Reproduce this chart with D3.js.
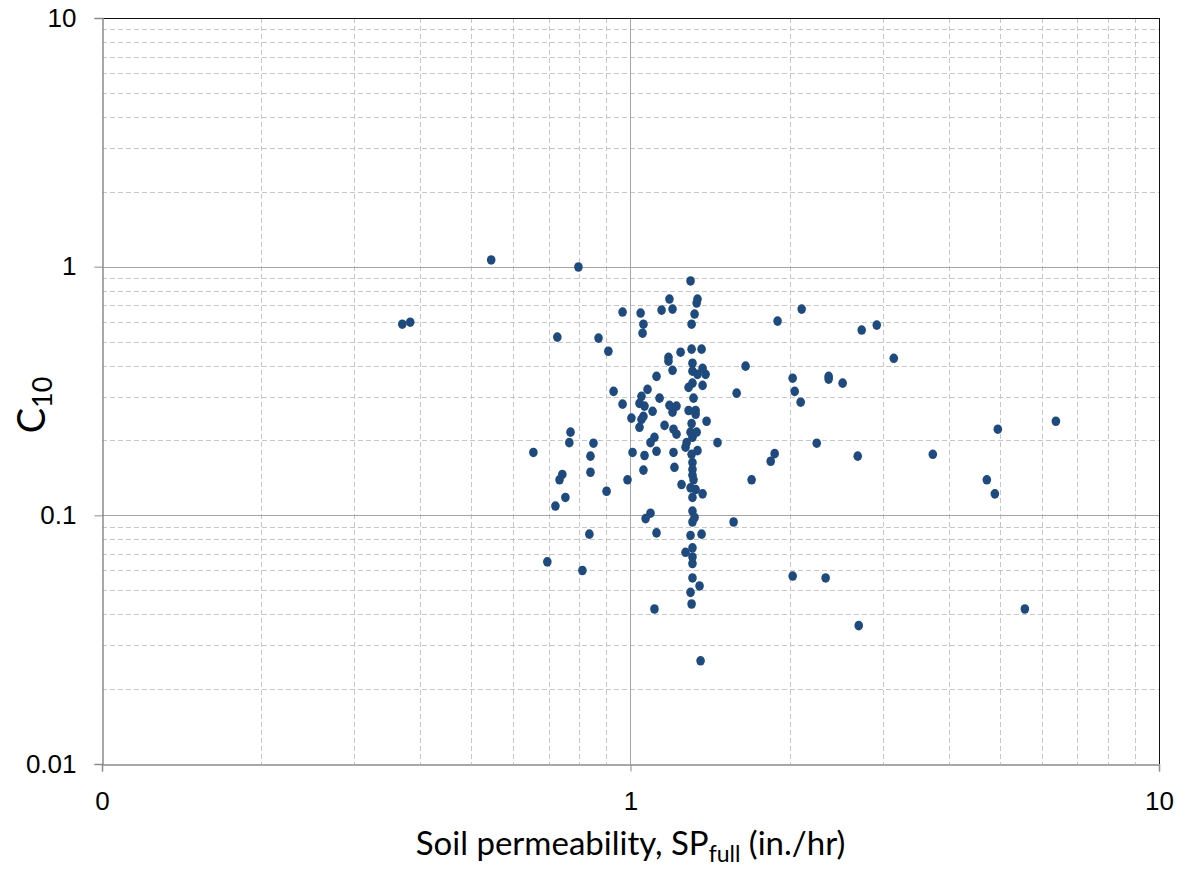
<!DOCTYPE html>
<html lang="en">
<head>
  <meta charset="UTF-8">
  <title>C10 vs soil permeability</title>
  <script src="https://d3js.org/d3.v7.min.js"></script>
  <style>
    body {
      margin: 0;
      background: #fff;
      font-family: Lato, "Open Sans", sans-serif;
    }
    .grid-major line { stroke: #a6a6a6; stroke-width: 1px; }
    .grid-minor line { stroke: #c6c6c6; stroke-width: 1px; stroke-dasharray: 5 3; }
    .tick-label { font-size: 26px; fill: #000; }
    .axis-title { fill: #000; }
  </style>
</head>
<body>
  <svg id="chart" width="1183" height="871"></svg>

  <script>
    // Soil permeability SP_full (in./hr)
    const permeability = [
      0.545, 0.797, 0.370, 0.383, 0.966, 0.727, 0.870, 0.908, 0.929, 0.966,
      1.004, 0.770, 0.766, 0.851, 0.840, 0.840, 0.655, 0.743, 0.734, 0.753,
      0.721, 0.901, 0.836, 0.696, 0.811, 0.987, 1.009, 1.063, 1.120, 1.206,
      1.058, 1.211, 1.045, 1.058, 1.054, 1.145, 1.185, 1.201, 1.299, 1.339,
      1.334, 1.322, 1.305, 1.244, 1.180, 1.180, 1.305, 1.363, 1.120, 1.201,
      1.310, 1.310, 1.339, 1.369, 1.387, 1.077, 1.049, 1.135, 1.310, 1.288,
      1.369, 1.316, 1.040, 1.063, 1.185, 1.222, 1.101, 1.201, 1.288, 1.328,
      1.328, 1.058, 1.049, 1.040, 1.160, 1.206, 1.222, 1.305, 1.299, 1.334,
      1.393, 1.310, 1.110, 1.091, 1.277, 1.271, 1.461, 1.305, 1.339, 1.310,
      1.310, 1.310, 1.316, 1.249, 1.299, 1.328, 1.369, 1.310, 1.695, 1.091,
      1.068, 1.310, 1.322, 1.310, 1.567, 1.120, 1.299, 1.363, 1.310, 1.271,
      1.310, 1.310, 1.310, 1.351, 1.299, 1.305, 1.110, 1.357, 2.108, 1.898,
      2.738, 2.924, 3.149, 1.651, 1.588, 2.027, 2.045, 2.099, 2.371, 2.371,
      2.520, 1.874, 1.842, 2.251, 2.691, 3.733, 4.723, 4.891, 4.955, 6.381,
      2.027, 2.340, 5.574, 2.703
    ];

    // C10 coefficient
    const c10 = [
      1.064, 0.997, 0.587, 0.598, 0.657, 0.521, 0.516, 0.457, 0.315, 0.280,
      0.246, 0.216, 0.196, 0.195, 0.173, 0.149, 0.179, 0.146, 0.139, 0.118,
      0.109, 0.125, 0.084, 0.065, 0.060, 0.139, 0.179, 0.174, 0.181, 0.179,
      0.152, 0.156, 0.651, 0.587, 0.540, 0.669, 0.741, 0.675, 0.876, 0.741,
      0.714, 0.645, 0.587, 0.453, 0.432, 0.417, 0.466, 0.466, 0.362, 0.383,
      0.409, 0.380, 0.369, 0.390, 0.369, 0.321, 0.301, 0.296, 0.340, 0.327,
      0.333, 0.296, 0.282, 0.275, 0.277, 0.275, 0.262, 0.260, 0.264, 0.264,
      0.255, 0.250, 0.243, 0.226, 0.230, 0.222, 0.212, 0.234, 0.216, 0.216,
      0.239, 0.206, 0.206, 0.196, 0.196, 0.188, 0.196, 0.176, 0.182, 0.163,
      0.153, 0.145, 0.139, 0.133, 0.129, 0.127, 0.122, 0.118, 0.139, 0.102,
      0.097, 0.104, 0.098, 0.094, 0.094, 0.085, 0.083, 0.084, 0.074, 0.071,
      0.068, 0.064, 0.056, 0.052, 0.049, 0.044, 0.042, 0.026, 0.675, 0.604,
      0.556, 0.582, 0.428, 0.398, 0.310, 0.356, 0.315, 0.285, 0.362, 0.353,
      0.340, 0.177, 0.165, 0.195, 0.173, 0.176, 0.139, 0.122, 0.222, 0.239,
      0.057, 0.056, 0.042, 0.036
    ];

    const xMajorTicks = [0.1, 1, 10];
    const xTickLabels = ["0", "1", "10"];
    const yMajorTicks = [0.01, 0.1, 1, 10];
    const yTickLabels = ["0.01", "0.1", "1", "10"];

    const plot = {left: 102, right: 1159, top: 18, bottom: 764};
    const svg = d3.select("#chart");

    const x = d3.scaleLog().domain([0.1, 10]).range([plot.left, plot.right]);
    const y = d3.scaleLog().domain([0.01, 10]).range([plot.bottom, plot.top]);

    // minor values between decades (2..9)
    const minorOf = (domain) => {
      const out = [];
      for (let p = Math.log10(domain[0]); p < Math.log10(domain[1]) - 1e-9; p++) {
        for (let m = 2; m <= 9; m++) out.push(m * Math.pow(10, p));
      }
      return out;
    };

    // minor grid
    const gMinor = svg.append("g").attr("class", "grid-minor");
    gMinor.selectAll(".vx").data(minorOf(x.domain())).enter().append("line")
      .attr("x1", d => Math.round(x(d)) + 0.5).attr("x2", d => Math.round(x(d)) + 0.5)
      .attr("y1", plot.top).attr("y2", plot.bottom);
    gMinor.selectAll(".hy").data(minorOf(y.domain())).enter().append("line")
      .attr("y1", d => Math.round(y(d)) + 0.5).attr("y2", d => Math.round(y(d)) + 0.5)
      .attr("x1", plot.left).attr("x2", plot.right);

    // major grid
    const gMajor = svg.append("g").attr("class", "grid-major");
    gMajor.selectAll(".vx").data(xMajorTicks.slice(1, -1)).enter().append("line")
      .attr("x1", d => Math.round(x(d)) + 0.5).attr("x2", d => Math.round(x(d)) + 0.5)
      .attr("y1", plot.top).attr("y2", plot.bottom);
    gMajor.selectAll(".hy").data(yMajorTicks.slice(1, -1)).enter().append("line")
      .attr("y1", d => Math.round(y(d)) + 0.5).attr("y2", d => Math.round(y(d)) + 0.5)
      .attr("x1", plot.left).attr("x2", plot.right);

    // plot border (top & right dark), axes (left & bottom gray)
    svg.append("line").attr("x1", plot.left).attr("x2", plot.right + 0.5)
      .attr("y1", plot.top + 0.5).attr("y2", plot.top + 0.5).attr("stroke", "#111");
    svg.append("line").attr("x1", plot.right + 0.5).attr("x2", plot.right + 0.5)
      .attr("y1", plot.top).attr("y2", plot.bottom).attr("stroke", "#111");

    // y axis
    const yAxis = d3.axisLeft(y).tickValues(yMajorTicks)
      .tickFormat((d, i) => yTickLabels[i]).tickSize(8).tickPadding(18);
    const gy = svg.append("g").attr("transform", `translate(${plot.left + 0.5},0)`).call(yAxis);
    gy.select(".domain").attr("stroke", "#8c8c8c").attr("stroke-width", 1.5);
    gy.selectAll(".tick line").attr("stroke", "#8c8c8c");
    gy.selectAll(".tick text").attr("class", "tick-label").attr("font-family", null).attr("font-size", null);

    // x axis
    const xAxis = d3.axisBottom(x).tickValues(xMajorTicks)
      .tickFormat((d, i) => xTickLabels[i]).tickSize(7).tickPadding(20);
    const gx = svg.append("g").attr("transform", `translate(0,${plot.bottom + 0.5})`).call(xAxis);
    gx.select(".domain").attr("stroke", "#8c8c8c").attr("stroke-width", 1.5);
    gx.selectAll(".tick line").attr("stroke", "#8c8c8c");
    gx.selectAll(".tick text").attr("class", "tick-label").attr("font-family", null).attr("font-size", null);

    // points
    const points = permeability.map((p, i) => ({p, c: c10[i]}));
    svg.append("g").selectAll("ellipse").data(points).enter().append("ellipse")
      .attr("cx", d => x(d.p))
      .attr("cy", d => y(d.c))
      .attr("rx", 4.3)
      .attr("ry", 4.8)
      .attr("fill", "#1f4a7e");

    // x axis title
    const xt = svg.append("text").attr("class", "axis-title")
      .attr("x", (plot.left + plot.right) / 2).attr("y", 855)
      .attr("text-anchor", "middle").attr("font-size", 33);
    xt.append("tspan").text("Soil permeability, SP");
    xt.append("tspan").attr("font-size", 23).attr("dy", 7).text("full");
    xt.append("tspan").attr("dy", -7).text(" (in./hr)");

    // y axis title
    const yt = svg.append("text").attr("class", "axis-title")
      .attr("transform", "translate(45,405) rotate(-90)")
      .attr("text-anchor", "middle").attr("font-size", 38);
    yt.append("tspan").text("C");
    yt.append("tspan").attr("font-size", 27).attr("dy", 7).text("10");
  </script>
</body>
</html>
